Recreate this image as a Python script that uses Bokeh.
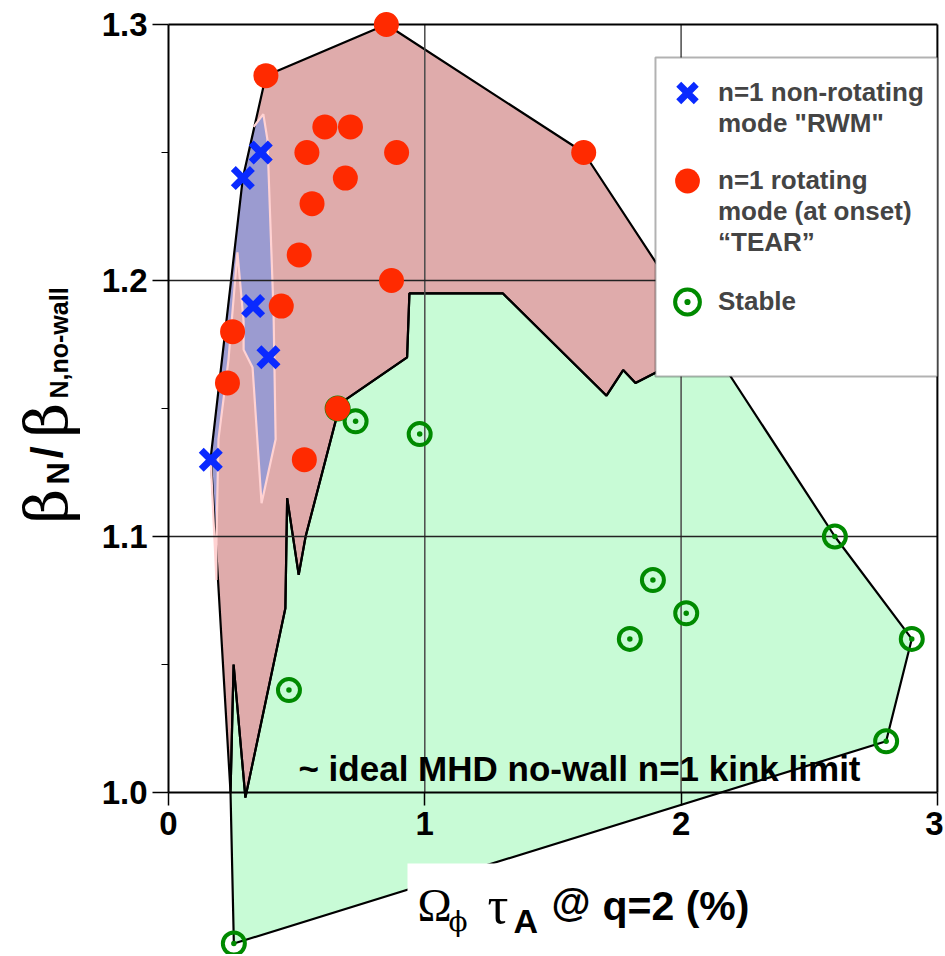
import math
from bokeh.plotting import figure
from bokeh.models import (Range1d, FixedTicker, PrintfTickFormatter, Label, BoxAnnotation,
                          Legend, LegendItem)
from bokeh.core.properties import value
from bokeh.embed import file_html
from bokeh.resources import INLINE

# ---------------- data ----------------
RWM_X = [0.36, 0.29, 0.33, 0.39, 0.165]
RWM_Y = [1.25, 1.24, 1.19, 1.17, 1.13]

TEAR_X = [0.85, 0.38, 0.61, 0.71, 0.54, 0.89, 0.69, 0.56, 0.51, 0.87, 0.44, 0.25, 0.23, 0.66, 0.53, 1.62]
TEAR_Y = [1.30, 1.28, 1.26, 1.26, 1.25, 1.25, 1.24, 1.23, 1.21, 1.20, 1.19, 1.18, 1.16, 1.15, 1.13, 1.25]

STABLE_X = [0.66, 0.73, 0.98, 0.47, 0.255, 2.60, 1.89, 2.02, 1.80, 2.90, 2.80]
STABLE_Y = [1.15, 1.145, 1.14, 1.04, 0.941, 1.10, 1.083, 1.07, 1.06, 1.06, 1.02]

# region boundaries
TEAR_REGION_X = [0.242, 0.165, 0.29, 0.38, 0.85, 1.62, 2.138, 1.900, 1.822, 1.774, 1.709, 1.304,
                 0.940, 0.931, 0.67, 0.535, 0.508, 0.463, 0.456, 0.300, 0.254]
TEAR_REGION_Y = [1.000, 1.131, 1.24, 1.28, 1.30, 1.25, 1.171, 1.164, 1.160, 1.165, 1.155, 1.195,
                 1.195, 1.170, 1.152, 1.100, 1.085, 1.115, 1.072, 0.998, 1.050]

STABLE_REGION_X = [0.255, 2.80, 2.90, 2.60, 2.138, 1.900, 1.822, 1.774, 1.709, 1.304, 0.940, 0.931,
                   0.67, 0.535, 0.508, 0.463, 0.456, 0.300, 0.254, 0.242]
STABLE_REGION_Y = [0.941, 1.02, 1.06, 1.10, 1.171, 1.164, 1.160, 1.165, 1.155, 1.195, 1.195, 1.170,
                   1.152, 1.100, 1.085, 1.115, 1.072, 0.998, 1.050, 1.000]

RWM_REGION_X = [0.332, 0.370, 0.386, 0.410, 0.418, 0.363, 0.328, 0.293, 0.293, 0.269, 0.234, 0.195,
                0.187, 0.187, 0.164, 0.242, 0.289]
RWM_REGION_Y = [1.260, 1.265, 1.255, 1.187, 1.138, 1.113, 1.166, 1.173, 1.184, 1.211, 1.169, 1.138,
                1.098, 1.083, 1.131, 1.200, 1.240]

X_TICKS = [0, 1, 2, 3]
Y_TICKS = [1.0, 1.1, 1.2, 1.3]
Y_MINOR = [1.05, 1.15, 1.25]
X_GRID = [1, 2]
Y_GRID = [1.1, 1.2]
X_LIM = [0, 3]
Y_LIM = [1.0, 1.3]

LEG_RWM = ['n=1 non-rotating', 'mode "RWM"']
LEG_TEAR = ['n=1 rotating', 'mode (at onset)', '\u201cTEAR\u201d']
LEG_STABLE = ['Stable']
NOTE = '~ ideal MHD no-wall n=1 kink limit'

# ---------------- styles ----------------
SANS = "Liberation Sans"
SERIF = "Liberation Serif"
PINK = "#dfabab"
GREEN_FILL = "#c8fbd6"
BLUE_FILL = "#9b9bd0"
RED = "#ff2a00"
BLUE = "#0a2aff"
GREEN = "#008a00"

W, H = 943, 954
PX_PER_X = 256.3
PX_PER_Y = 2560.0
X0_PX = 168      # canvas x of data x = 0
TOP_PX = 24      # canvas y of data y = 1.3
x_start = -X0_PX / PX_PER_X
x_end = x_start + W / PX_PER_X
y_end = Y_LIM[1] + TOP_PX / PX_PER_Y
y_start = y_end - H / PX_PER_Y

p = figure(width=W, height=H, x_range=Range1d(x_start, x_end), y_range=Range1d(y_start, y_end),
           output_backend="svg", toolbar_location=None,
           min_border_left=0, min_border_right=0, min_border_top=0, min_border_bottom=0)
p.outline_line_color = None
p.xgrid.visible = False
p.ygrid.visible = False
p.background_fill_color = "white"
p.border_fill_color = "white"

# region fills
p.patch(TEAR_REGION_X, TEAR_REGION_Y, fill_color=PINK, line_color=None, level="image")
p.patch(STABLE_REGION_X, STABLE_REGION_Y, fill_color=GREEN_FILL, line_color=None, level="image")
p.patch(RWM_REGION_X, RWM_REGION_Y, fill_color=BLUE_FILL, line_color=None, level="image")
p.patch(TEAR_REGION_X, TEAR_REGION_Y, fill_color=None, line_color="black", line_width=2.2, level="image")
p.patch(STABLE_REGION_X, STABLE_REGION_Y, fill_color=None, line_color="black", line_width=2.2, level="image")
p.line(RWM_REGION_X[:-2], RWM_REGION_Y[:-2], line_color="#ffd2d2", line_width=2.2, level="image")

# grid lines and frame
p.segment(x0=X_GRID, y0=[Y_LIM[0]] * len(X_GRID), x1=X_GRID, y1=[Y_LIM[1]] * len(X_GRID),
          line_color="#4a4a4a", line_width=1.5, level="underlay")
p.segment(x0=[X_LIM[0]] * len(Y_GRID), y0=Y_GRID, x1=[X_LIM[1]] * len(Y_GRID), y1=Y_GRID,
          line_color="#222222", line_width=1.3, level="underlay")
p.segment(x0=[X_LIM[0], X_LIM[1]], y0=[Y_LIM[1], Y_LIM[0]], x1=[X_LIM[1], X_LIM[1]], y1=[Y_LIM[1], Y_LIM[1]],
          line_color="black", line_width=2, level="underlay")

# data points
r_stable = p.scatter(STABLE_X, STABLE_Y, marker="circle_dot", size=22, fill_color=None,
                     line_color=GREEN, line_width=4)
r_tear = p.scatter(TEAR_X, TEAR_Y, marker="circle", size=25, fill_color=RED, line_color=None)
r_rwm = p.scatter(RWM_X, RWM_Y, marker="x", size=27, line_color=BLUE, line_width=7)

# axes (both fixed in data space)
xa = p.xaxis[0]
xa.fixed_location = Y_LIM[0]
xa.bounds = (X_LIM[0], X_LIM[1])
xa.ticker = FixedTicker(ticks=X_TICKS, minor_ticks=[])
xa.major_tick_out = 13
xa.major_tick_in = 0
xa.minor_tick_line_color = None
xa.axis_line_width = 2
xa.major_tick_line_width = 1.5
xa.major_label_standoff = 6
xa.major_label_text_font = SANS
xa.major_label_text_font_style = "bold"
xa.major_label_text_font_size = "33px"
xa.major_label_text_color = "black"

ya = p.yaxis[0]
ya.fixed_location = X_LIM[0]
ya.bounds = (Y_LIM[0], Y_LIM[1])
ya.ticker = FixedTicker(ticks=Y_TICKS, minor_ticks=Y_MINOR)
ya.formatter = PrintfTickFormatter(format="%.1f")
ya.major_tick_out = 16
ya.major_tick_in = 0
ya.minor_tick_out = 7
ya.minor_tick_in = 0
ya.axis_line_width = 2
ya.major_tick_line_width = 1.5
ya.major_label_standoff = 5
ya.major_label_text_font = SANS
ya.major_label_text_font_style = "bold"
ya.major_label_text_font_size = "33px"
ya.major_label_text_color = "black"

# annotation text inside the plot
p.add_layout(Label(x=0.507, y=1.0094, text=NOTE, text_font=SANS, text_font_style="bold",
                   text_font_size="35px", text_color="black", text_baseline="alphabetic"))

# x-axis title (white box behind it)
p.add_layout(BoxAnnotation(left=0.9325, right=2.32, top=0.9723, bottom=0.90,
                           fill_color="white", fill_alpha=1.0, line_color=None))
xl = [
    ("\u03a9", 417, 49, SERIF, "normal", "46px"),
    ("\u03d5", 448, 33, "DejaVu Serif", "normal", "28px"),
    ("\u03c4", 487, 49, SERIF, "normal", "52px"),
    ("A", 513, 34, SANS, "bold", "34px"),
    ("@", 551, 53, SANS, "bold", "40px"),
    ("q=2 (%)", 602, 49, SANS, "bold", "41px"),
]
for t, sx, sy, f, st, fs in xl:
    p.add_layout(Label(x=sx, y=sy, x_units="screen", y_units="screen", text=t, text_font=f,
                       text_font_style=st, text_font_size=fs, text_color="black",
                       text_baseline="alphabetic"))

# y-axis title (rotated)
yl = [
    ("\u03b2", 46, 431, "DejaVu Serif", "normal", "60px"),
    ("N", 58, 470, SANS, "bold", "31px"),
    ("/", 46, 496, SANS, "bold", "44px"),
    ("\u03b2", 46, 517, "DejaVu Serif", "normal", "60px"),
    ("N,no-wall", 58, 556, SANS, "bold", "25px"),
]
for t, sx, sy, f, st, fs in yl:
    p.add_layout(Label(x=sx, y=sy, x_units="screen", y_units="screen", text=t, text_font=f,
                       text_font_style=st, text_font_size=fs, text_color="black",
                       text_baseline="alphabetic", angle=math.pi / 2))

# legend frame and legend entries (empty lines keep each marker level with the first line)
p.add_layout(BoxAnnotation(left=1.900, right=3.0, top=1.2871, bottom=1.1625,
                           fill_color="white", fill_alpha=1.0, line_color="black", line_width=2))


def centred_on_first(lines):
    return "\n".join([""] * (len(lines) - 1) + lines)


def add_legend(lines, renderer, loc):
    lg = Legend(items=[LegendItem(label=value(centred_on_first(lines)), renderers=[renderer])],
                location=loc)
    lg.label_text_font = SANS
    lg.label_text_font_style = "bold"
    lg.label_text_font_size = "26px"
    lg.label_text_line_height = 1.37
    lg.glyph_width = 62
    lg.glyph_height = 65
    lg.label_standoff = 0
    lg.spacing = 0
    lg.padding = 0
    lg.margin = 0
    lg.border_line_color = None
    lg.background_fill_alpha = 0
    p.add_layout(lg)


add_legend(LEG_RWM, r_rwm, (656, 815))
add_legend(LEG_TEAR, r_tear, (656, 696))
add_legend(LEG_STABLE, r_stable, (656, 620))

open("out.html", "w").write(file_html(p, INLINE))
